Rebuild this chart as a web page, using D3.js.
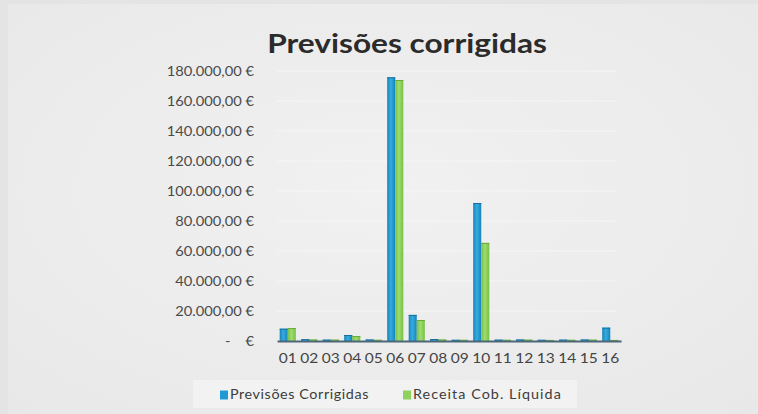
<!DOCTYPE html>
<html>
<head>
<meta charset="utf-8">
<script src="https://cdn.jsdelivr.net/npm/d3@7"></script>
<style>
  html, body { margin: 0; padding: 0; background: #e4e4e4; overflow: hidden; }
  svg { display: block; }
</style>
</head>
<body>
<svg id="chart"></svg>
<script>
// data
const categories = ['01', '02', '03', '04', '05', '06', '07', '08', '09', '10', '11', '12', '13', '14', '15', '16'];
const previsoesCorrigidas = [8200, 1200, 900, 4000, 1000, 175800, 17400, 1300, 800, 92000, 900, 1000, 800, 900, 1000, 8900];
const receitaCobLiquida = [8600, 1000, 900, 3300, 800, 174000, 14000, 1000, 800, 65400, 800, 900, 700, 800, 900, 700];
const seriesNames = ['Previsões Corrigidas', 'Receita Cob. Líquida'];
const yTicks = [0, 20000, 40000, 60000, 80000, 100000, 120000, 140000, 160000, 180000];
const chartTitle = 'Previsões corrigidas';

// the photo of the slide is a bit wider than tall, so draw in a narrower box and stretch it
const S = 1.15;
const px = v => v / S;
const W = 758, H = 414;

const colors = { blue: '#1f99d3', green: '#8fd15d' };
const font = 'Lato, "Open Sans", sans-serif';

const svg = d3.select('#chart')
    .attr('width', W)
    .attr('height', H)
    .attr('viewBox', `0 0 ${px(W)} ${H}`)
    .attr('preserveAspectRatio', 'none');

const defs = svg.append('defs');

// slide background, a little lighter in the middle
const bg = defs.append('radialGradient').attr('id', 'bg').attr('cx', '50%').attr('cy', '45%').attr('r', '75%');
bg.append('stop').attr('offset', '0%').attr('stop-color', '#f1f1f1');
bg.append('stop').attr('offset', '100%').attr('stop-color', '#e8e8e8');

function barGradient(id, dark, light) {
  const g = defs.append('linearGradient').attr('id', id).attr('x1', 0).attr('x2', 1).attr('y1', 0).attr('y2', 0);
  g.append('stop').attr('offset', '0%').attr('stop-color', dark);
  g.append('stop').attr('offset', '45%').attr('stop-color', light);
  g.append('stop').attr('offset', '100%').attr('stop-color', dark);
}
barGradient('gBlue', '#1683ba', '#35ace0');
barGradient('gGreen', '#77bf48', '#9edd6c');

svg.append('rect')
    .attr('x', px(8)).attr('y', 4)
    .attr('width', px(W - 8)).attr('height', H - 4)
    .attr('fill', 'url(#bg)');

// plot area (in photo pixels)
const plot = { left: 277, right: 621, top: 71, bottom: 341 };

const y = d3.scaleLinear()
    .domain([0, 180000])
    .range([plot.bottom, plot.top]);

const x0 = d3.scaleBand()
    .domain(categories)
    .range([px(plot.left), px(plot.right)])
    .paddingInner(0.25)
    .paddingOuter(0.125);

const x1 = d3.scaleBand()
    .domain(seriesNames)
    .range([0, x0.bandwidth()]);

const locale = d3.formatLocale({ decimal: ',', thousands: '.', grouping: [3], currency: ['', ' €'] });
const fmt = locale.format('$,.2f');

// faint gridlines
svg.append('g')
    .selectAll('line')
    .data(yTicks.filter(d => d > 0))
    .join('line')
    .attr('x1', px(plot.left)).attr('x2', px(plot.right - 4))
    .attr('y1', d => y(d)).attr('y2', d => y(d))
    .attr('stroke', '#f5f5f5')
    .attr('stroke-width', 1);

// y axis, labels only
const yAxis = d3.axisLeft(y)
    .tickValues(yTicks)
    .tickSize(0)
    .tickPadding(0)
    .tickFormat(d => d === 0 ? '-    €' : fmt(d));

const yAxisG = svg.append('g')
    .attr('transform', `translate(${px(254)},0)`)
    .call(yAxis);
yAxisG.select('.domain').remove();
yAxisG.selectAll('text')
    .style('font-family', font)
    .style('font-size', '12.8px')
    .style('white-space', 'pre')
    .attr('fill', '#4a4a4a');

// bars
const rows = categories.map((c, i) => ({ cat: c, values: [previsoesCorrigidas[i], receitaCobLiquida[i]] }));
const fills = ['url(#gBlue)', 'url(#gGreen)'];
const edges = ['#15709e', '#6aa83f'];

const groups = svg.append('g')
    .selectAll('g')
    .data(rows)
    .join('g')
    .attr('transform', d => `translate(${x0(d.cat)},0)`);

groups.selectAll('rect')
    .data(d => d.values.map((v, k) => ({ key: seriesNames[k], value: v, k })))
    .join('rect')
    .attr('x', d => x1(d.key))
    .attr('width', x1.bandwidth())
    .attr('y', d => y(d.value))
    .attr('height', d => plot.bottom - y(d.value))
    .attr('fill', d => fills[d.k]);

groups.selectAll('line.cap')
    .data(d => d.values.map((v, k) => ({ key: seriesNames[k], value: v, k })))
    .join('line')
    .attr('class', 'cap')
    .attr('x1', d => x1(d.key)).attr('x2', d => x1(d.key) + x1.bandwidth())
    .attr('y1', d => y(d.value) + 0.5).attr('y2', d => y(d.value) + 0.5)
    .attr('stroke', d => edges[d.k])
    .attr('stroke-width', 1);

// x axis
const xAxis = d3.axisBottom(x0).tickSize(0).tickPadding(12);
const xAxisG = svg.append('g')
    .attr('transform', `translate(0,${plot.bottom})`)
    .call(xAxis);
xAxisG.select('.domain')
    .attr('stroke', '#4c6778')
    .attr('stroke-width', 2);
xAxisG.selectAll('text')
    .style('font-family', font)
    .style('font-size', '13.5px')
    .attr('fill', '#444');

// title
svg.append('text')
    .attr('x', px(407))
    .attr('y', 53)
    .attr('text-anchor', 'middle')
    .style('font-family', font)
    .style('font-size', '27.5px')
    .style('font-weight', 'bold')
    .attr('fill', '#2b2b2b')
    .text(chartTitle);

// legend
svg.append('rect')
    .attr('x', px(193)).attr('y', 380)
    .attr('width', px(577 - 193)).attr('height', 28)
    .attr('fill', '#f2f2f2');

const legendX = [220, 403];
const legend = svg.append('g')
    .selectAll('g')
    .data(seriesNames)
    .join('g')
    .attr('transform', (d, i) => `translate(${px(legendX[i])},395)`);

legend.append('rect')
    .attr('x', 0).attr('y', -4.5)
    .attr('width', px(8)).attr('height', 9)
    .attr('fill', (d, i) => [colors.blue, colors.green][i]);

legend.append('text')
    .attr('x', px(10))
    .attr('dy', '0.35em')
    .style('font-family', font)
    .style('font-size', '12.5px')
    .style('letter-spacing', (d, i) => i === 0 ? '0.5px' : '0.9px')
    .attr('fill', '#3c3c3c')
    .text(d => d);
</script>
</body>
</html>
